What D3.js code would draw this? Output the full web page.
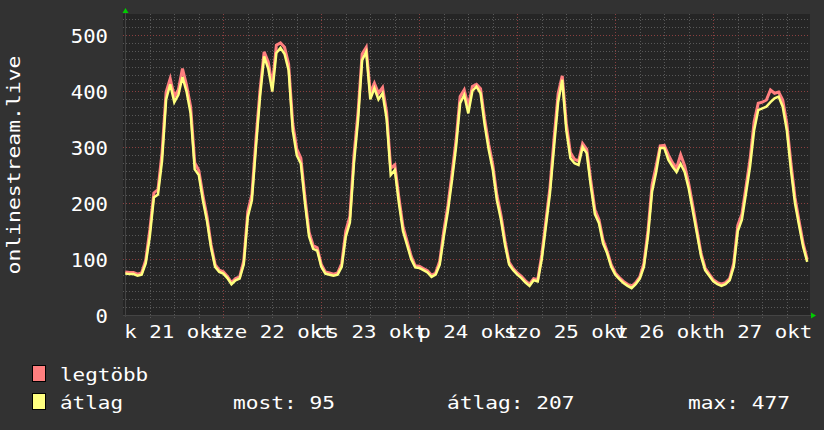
<!DOCTYPE html>
<html><head><meta charset="utf-8">
<script src="https://cdn.jsdelivr.net/npm/d3@7"></script>
<style>html,body{margin:0;padding:0;background:#313131;overflow:hidden}svg{display:block}</style>
</head><body><div id="chart"></div>
<script>
// ---------------- data ----------------
const startTime = "2025-10-21T00:00:00Z";     // first hourly sample
const dayLabels = ["k 21 okt","sze 22 okt","cs 23 okt","p 24 okt","szo 25 okt","v 26 okt","h 27 okt"];
const yTickValues = [0,100,200,300,400,500];
const yAxisTitle = "onlinestream.live";
const seriesNames = ["legtöbb","átlag"];
const statNames = ["most","átlag","max"];
const statValues = [95, 207, 477];

// hourly "átlag" (average) values, Oct 21 00:00 .. Oct 27 23:00
const avgValues = [
  74,73,73,70,72,92,140,210,215,275,385,412,380,393,425,399,360,260,250,205,168,120,86,77,
  74,66,55,62,65,90,175,205,300,390,462,440,399,468,477,466,437,330,285,270,200,140,118,115,
  86,74,72,70,72,86,140,165,271,348,455,470,385,405,385,396,350,250,259,200,150,125,100,85,
  84,80,76,68,72,90,140,185,240,300,378,393,360,400,408,396,340,295,259,205,170,125,90,80,
  72,66,58,52,62,60,100,158,217,300,380,420,330,280,271,268,300,289,230,180,164,128,110,86,
  72,64,57,52,48,55,65,86,140,220,255,298,298,277,265,255,270,255,225,185,145,105,80,70,
  60,55,52,55,62,86,150,170,217,265,330,366,369,372,380,387,390,372,330,260,200,160,122,95
];
// hourly "legtöbb" (maximum) values
const maxValues = [
  77,76,76,73,75,98,152,218,224,290,398,422,390,402,440,410,372,272,258,214,176,126,90,80,
  77,69,58,65,68,96,185,215,314,402,470,452,410,482,486,478,448,342,296,280,210,148,124,120,
  90,77,75,73,75,92,150,176,285,362,466,478,396,414,396,406,362,262,268,210,158,132,105,88,
  87,83,79,71,75,96,150,195,252,312,390,402,372,408,412,404,350,305,268,214,178,132,94,83,
  75,69,61,55,65,63,108,168,228,315,395,427,342,290,278,275,306,296,240,188,170,134,114,90,
  75,67,60,55,51,58,68,92,150,232,266,302,303,286,272,262,286,266,234,194,152,110,84,73,
  63,58,55,58,65,92,160,180,228,278,345,378,380,384,402,396,398,384,342,272,210,168,128,99
];

// ---------------- layout / style ----------------
const W = 824, H = 430;
const colMax = "#ff7f7f", colAvg = "#ffff7f";
const mono = "'DejaVu Sans Mono', monospace";

const t0 = new Date(startTime);
const t1 = d3.utcDay.offset(t0, 7);
const x = d3.scaleUtc().domain([t0, t1]).range([125.3, 811.3]);
const y = d3.scaleLinear().domain([0, 500]).range([315, 35]);
const plotTop = 14, plotBottom = 315, plotLeft = 123, plotRight = 810;

const svg = d3.select("#chart").append("svg").attr("width", W).attr("height", H);
svg.append("rect").attr("width", W).attr("height", H).attr("fill", "#323232");
svg.append("rect").attr("x", plotLeft).attr("y", plotTop)
  .attr("width", plotRight - plotLeft).attr("height", plotBottom - plotTop).attr("fill", "#252525");

// grid
const grid = svg.append("g");
const minorStep = 100 / 7;
for (let v = minorStep; y(v) >= plotTop; v += minorStep) {
  if (Math.abs(v / 100 - Math.round(v / 100)) < 1e-6) continue;
  grid.append("line").attr("x1", plotLeft).attr("x2", plotRight)
    .attr("y1", Math.round(y(v)) + 0.5).attr("y2", Math.round(y(v)) + 0.5)
    .attr("stroke", "#585858").attr("stroke-dasharray", "1,2");
}
const hours6 = d3.utcHour.every(6).range(t0, t1);
hours6.forEach(t => {
  if (t.getUTCHours() === 0) return;
  grid.append("line").attr("x1", Math.round(x(t)) + 0.5).attr("x2", Math.round(x(t)) + 0.5)
    .attr("y1", plotTop).attr("y2", plotBottom + 3)
    .attr("stroke", "#585858").attr("stroke-dasharray", "1,2");
});
yTickValues.forEach(v => {
  if (v === 0) return;
  grid.append("line").attr("x1", plotLeft).attr("x2", plotRight)
    .attr("y1", Math.round(y(v)) + 0.5).attr("y2", Math.round(y(v)) + 0.5)
    .attr("stroke", "#8a4040").attr("stroke-dasharray", "1,2");
});
d3.utcDay.range(d3.utcDay.offset(t0, 1), t1).forEach(t => {
  grid.append("line").attr("x1", Math.round(x(t)) + 0.5).attr("x2", Math.round(x(t)) + 0.5)
    .attr("y1", plotTop).attr("y2", plotBottom + 3)
    .attr("stroke", "#8a4040").attr("stroke-dasharray", "1,2");
});

// axes
svg.append("line").attr("x1", plotLeft).attr("x2", plotRight + 2).attr("y1", 315.5).attr("y2", 315.5)
  .attr("stroke", "#444");
svg.append("line").attr("x1", 125.5).attr("x2", 125.5).attr("y1", 12).attr("y2", 317)
  .attr("stroke", "#444");
svg.append("path").attr("d", "M122.5,13 L128.5,13 L125.5,8 Z").attr("fill", "#00cc00");
svg.append("path").attr("d", "M811,312.5 L811,318.5 L816,315.5 Z").attr("fill", "#00cc00");

// data lines
const avgData = avgValues.map((v, i) => ({ t: d3.utcHour.offset(t0, i), v }));
const maxData = maxValues.map((v, i) => ({ t: d3.utcHour.offset(t0, i), v }));
const line = d3.line().x(d => x(d.t)).y(d => y(d.v)).curve(d3.curveLinear);
svg.append("path").datum(maxData).attr("d", line).attr("fill", "none")
  .attr("stroke", colMax).attr("stroke-width", 3).attr("stroke-linejoin", "miter");
svg.append("path").datum(avgData).attr("d", line).attr("fill", "none")
  .attr("stroke", colAvg).attr("stroke-width", 2.5).attr("stroke-linejoin", "miter");

// text helper
function txt(parent, s, xx, yy, size, pitch, anchor) {
  return parent.append("text").attr("x", xx).attr("y", yy).text(s)
    .attr("font-family", mono).attr("font-size", size).attr("fill", "#ffffff")
    .attr("text-anchor", anchor || "start")
    .attr("textLength", s.length * pitch).attr("lengthAdjust", "spacingAndGlyphs");
}

// y tick labels
yTickValues.forEach(v => txt(svg, String(v), 108, y(v) + 7.7, 19.6, 12.4, "end"));

// x labels centered at noon
dayLabels.forEach((s, i) => {
  const noon = d3.utcHour.offset(d3.utcDay.offset(t0, i), 12);
  txt(svg, s, x(noon), 338.3, 18.3, 12.5, "middle");
});

// y title
svg.append("text").attr("transform", "translate(20,165) rotate(-90)")
  .attr("text-anchor", "middle").attr("font-family", mono).attr("font-size", 18)
  .attr("fill", "#ffffff").attr("textLength", 219).attr("lengthAdjust", "spacingAndGlyphs")
  .text(yAxisTitle);

// legend
svg.append("rect").attr("x", 32.5).attr("y", 365.5).attr("width", 13).attr("height", 16)
  .attr("fill", colMax).attr("stroke", "#000");
svg.append("rect").attr("x", 32.5).attr("y", 393.5).attr("width", 13).attr("height", 16)
  .attr("fill", colAvg).attr("stroke", "#000");
txt(svg, seriesNames[0], 60, 381, 18.5, 12.6);
txt(svg, seriesNames[1], 60, 409, 18.5, 12.6);
const statX = [233, 447, 688];
statNames.forEach((n, i) => txt(svg, n + ": " + statValues[i], statX[i], 409, 18.5, 12.75));
</script>
</body></html>
